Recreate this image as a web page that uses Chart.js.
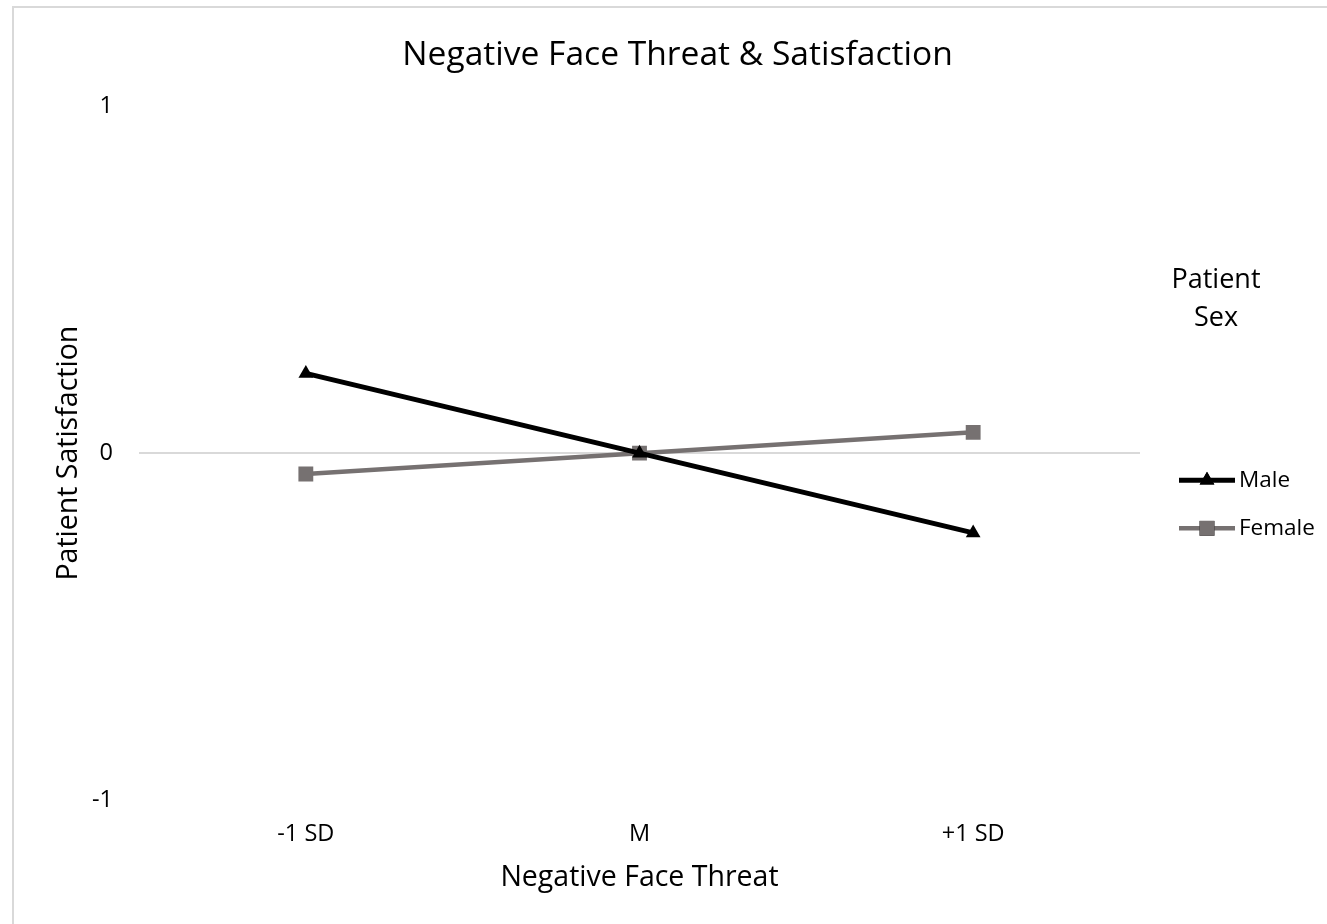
<!DOCTYPE html>
<html>
<head>
<meta charset="utf-8">
<script src="https://cdn.jsdelivr.net/npm/chart.js@4"></script>
<style>
  body { margin: 0; background: #fff; }
  #caixa {
    position: absolute; left: 12px; top: 6px;
    width: 1313px; height: 916px;
    border-left: 2px solid #d9d9d9; border-top: 2px solid #d9d9d9;
  }
</style>
</head>
<body>
<div id="caixa"><canvas id="chart1" width="1313" height="916"></canvas></div>
<script>
const categorias = ['-1 SD', 'M', '+1 SD']
const valoresMale = [0.23, 0, -0.23]
const valoresFemale = [-0.06, 0, 0.06]
const ticksY = [-1, 0, 1]

const fonte = "'Open Sans', sans-serif"
const preto = '#000000'
const cinza = '#767171'

// legenda no estilo do Excel: linha com marcador no meio
const legendaExcel = {
  id: 'legendaExcel',
  afterDraw(chart) {
    const ctx = chart.ctx
    const area = chart.chartArea
    const cx = area.right + 76
    ctx.save()
    ctx.fillStyle = '#000'
    ctx.textAlign = 'center'
    ctx.textBaseline = 'middle'
    ctx.font = '27px ' + fonte
    ctx.fillText('Patient', cx, area.top + 174)
    ctx.fillText('Sex', cx, area.top + 212)

    chart.data.datasets.forEach((ds, i) => {
      const y = area.top + 374 + i * 48
      const x0 = area.right + 39
      const x1 = x0 + 56
      ctx.strokeStyle = ds.borderColor
      ctx.lineWidth = ds.borderWidth
      ctx.beginPath()
      ctx.moveTo(x0, y)
      ctx.lineTo(x1, y)
      ctx.stroke()
      Chart.helpers.drawPoint(ctx, {
        pointStyle: ds.pointStyle,
        radius: ds.pointRadius,
        borderWidth: 0
      }, (x0 + x1) / 2, y)
      ctx.fillStyle = ds.backgroundColor
      ctx.fill()
      ctx.fillStyle = '#000'
      ctx.textAlign = 'left'
      ctx.font = '22.5px ' + fonte
      ctx.fillText(ds.label, x1 + 4, y)
    })
    ctx.restore()
  }
}

const ctx = document.getElementById('chart1').getContext('2d')

new Chart(ctx, {
  type: 'line',
  data: {
    labels: categorias,
    datasets: [{
      label: 'Male',
      data: valoresMale,
      borderColor: preto,
      backgroundColor: preto,
      borderWidth: 5,
      pointStyle: 'triangle',
      pointRadius: 8.5,
      pointBorderWidth: 0,
      tension: 0
    }, {
      label: 'Female',
      data: valoresFemale,
      borderColor: cinza,
      backgroundColor: cinza,
      borderWidth: 4.5,
      pointStyle: 'rect',
      pointRadius: 10.5,
      pointBorderWidth: 0,
      tension: 0
    }]
  },
  options: {
    responsive: false,
    animation: false,
    layout: {
      padding: { left: 14, right: 0, top: 0, bottom: 0 }
    },
    plugins: {
      legend: { display: false },
      tooltip: { enabled: false },
      title: {
        display: true,
        text: 'Negative Face Threat & Satisfaction',
        color: '#000',
        font: { family: fonte, size: 33.6, weight: 'normal' },
        padding: { top: 27, bottom: 31 }
      }
    },
    scales: {
      x: {
        offset: true,
        grid: { display: false, drawTicks: false },
        border: { display: false },
        ticks: {
          color: '#000',
          padding: 20,
          font: { family: fonte, size: 23.5 }
        },
        title: {
          display: true,
          text: 'Negative Face Threat',
          color: '#000',
          font: { family: fonte, size: 28.5 },
          padding: { top: 0, bottom: 29 }
        },
        afterFit(scale) { scale.height = 124 }
      },
      y: {
        min: -1,
        max: 1,
        afterBuildTicks(scale) {
          scale.ticks = ticksY.map(v => ({ value: v }))
        },
        grid: {
          drawTicks: false,
          lineWidth: 2,
          color: c => c.tick && c.tick.value === 0 ? '#d9d9d9' : 'rgba(0,0,0,0)'
        },
        border: { display: false },
        ticks: {
          color: '#000',
          padding: 26,
          font: { family: fonte, size: 23.5 }
        },
        title: {
          display: true,
          text: 'Patient Satisfaction',
          color: '#000',
          font: { family: fonte, size: 28.5 },
          padding: { top: 24, bottom: 0 }
        },
        afterFit(scale) { scale.width = 111 }
      },
      // espaco reservado para a legenda na direita
      lado: {
        position: 'right',
        display: true,
        grid: { display: false },
        border: { display: false },
        ticks: { display: false },
        afterFit(scale) { scale.width = 187 }
      }
    }
  },
  plugins: [legendaExcel]
})
</script>
</body>
</html>
